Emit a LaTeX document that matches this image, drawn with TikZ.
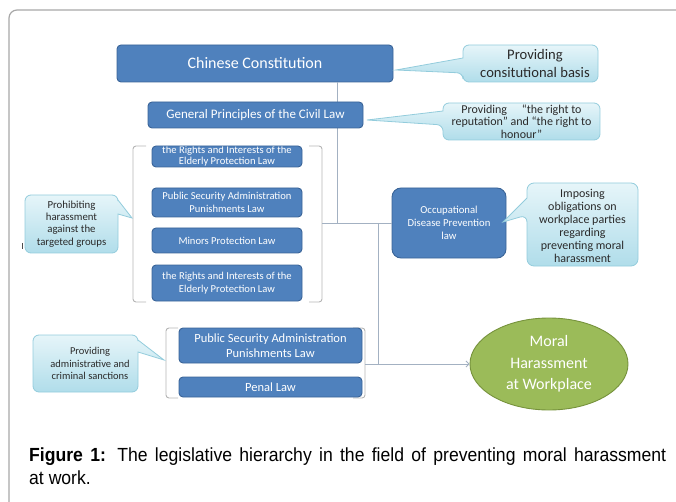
\documentclass[tikz,border=0pt]{standalone}
\usepackage{graphicx}
\usepackage{fontspec}
\setmainfont{Carlito}
\newfontfamily\capfont{Liberation Sans}
\usetikzlibrary{arrows.meta,shapes.geometric}
\definecolor{bluefill}{HTML}{4F81BD}
\definecolor{blueedge}{HTML}{3A6497}
\definecolor{calltop}{HTML}{E6F5F9}
\definecolor{callbot}{HTML}{B0DDEA}
\definecolor{calledge}{HTML}{93CCDC}
\definecolor{greenfill}{HTML}{9BBB59}
\definecolor{greenedge}{HTML}{76923C}
\definecolor{linecol}{HTML}{A3B1C2}
\definecolor{brackcol}{HTML}{B4B4B4}
\definecolor{framecol}{HTML}{A8A8A8}
\definecolor{calltext}{HTML}{2A2A2A}
\newcommand\fsz[2]{\fontsize{#1}{#2}\selectfont}
\begin{document}
\begin{tikzpicture}[x=1pt,y=-1pt,
  lawbox/.style={draw=blueedge, fill=bluefill, line width=0.9pt, rounded corners=4pt,
    text=white, align=center, inner sep=0pt},
  callshape/.style={draw=calledge, line width=0.8pt, top color=calltop, bottom color=callbot},
  calltxt/.style={align=center, text=calltext, inner sep=0pt},
  conn/.style={draw=linecol, line width=0.9pt},
  brack/.style={draw=brackcol, line width=0.9pt, rounded corners=3pt},
  captxt/.style={anchor=base west, inner sep=0pt, font=\capfont\fsz{17.6}{20}}]
\useasboundingbox (0,0) rectangle (676,502);
% frame
\draw[framecol, line width=1.2pt, rounded corners=8pt] (9,502) -- (9,10) -- (676,10);

% junction coordinates
\coordinate (j1) at (337,223);
\coordinate (j2) at (378,223);
\coordinate (j3) at (378,364);
\coordinate (g1r) at (322,223);
\coordinate (g2r) at (365,364);

% connectors (behind boxes)
\node[lawbox, minimum width=276, minimum height=37, font=\fsz{16}{19}] (const) at (255,63.5) {Chinese Constitution};
\draw[conn] (const.south -| j1) -- (j1);
\draw[conn] (g1r) -- (j2);
\draw[conn] (j2) -- (j3);

% brackets
\draw[brack] (146,146) -- (133,146) -- (133,302) -- (146,302);
\draw[brack] (309,146) -- (322,146) -- (322,302) -- (309,302);
\draw[brack] (178,328) -- (166,328) -- (166,398) -- (178,398);
\draw[brack] (353,328) -- (365,328) -- (365,398) -- (353,398);

% law boxes
\node[lawbox, minimum width=215, minimum height=26, font=\fsz{13}{15}] (gpcl) at (255.5,115) {General Principles of the Civil Law};

\node[lawbox, minimum width=150, minimum height=21,
  path picture={\node[text=white, align=center, inner sep=0pt, font=\fsz{10.6}{11.5}]
    at ([yshift=0.3pt]path picture bounding box.center) {the Rights and Interests of the\\Elderly Protection Law};}] (ra) at (227,156.5) {};
\node[lawbox, minimum width=150, minimum height=29, font=\fsz{10.6}{13.3}] (psa) at (227,202.5) {Public Security Administration\\Punishments Law};
\node[lawbox, minimum width=150, minimum height=25, font=\fsz{10.6}{13.3}] (mpl) at (227,240.5) {Minors Protection Law};
\node[lawbox, minimum width=150, minimum height=36, font=\fsz{10.6}{13.3}] (rie) at (227,283) {the Rights and Interests of the\\Elderly Protection Law};

\node[lawbox, minimum width=183, minimum height=35, font=\fsz{12.5}{14.7}] (psa2) at (270.5,345.5) {Public Security Administration\\Punishments Law};
\node[lawbox, minimum width=183, minimum height=20, font=\fsz{12.5}{14.7}] (penal) at (270.5,387) {Penal Law};

\node[lawbox, rounded corners=9pt, minimum width=114, minimum height=70, font=\fsz{10.7}{12.8}] (occ) at (449,223) {Occupational\\Disease Prevention\\law};
\draw[conn] (g1r) -- (occ.west);

\node[ellipse, draw=greenedge, fill=greenfill, line width=0.9pt, minimum width=158, minimum height=92, inner sep=0pt,
  text=white, align=center, font=\fsz{16}{21.7}] (moral) at (549,364) {Moral\\Harassment\\at Workplace};
\draw[conn, -{Straight Barb[length=3pt,width=6pt]}] (g2r) -- (moral.west);

% callouts
\path[callshape] (530,45) [rounded corners=6pt] -- (598,45) -- (598,82) -- (463,82) -- (463,73) [sharp corners] -- (396,70) -- (463,58) [rounded corners=6pt] -- (463,45) -- cycle;
\node[calltxt, font=\fsz{14.6}{18}] (c1) at (535,63.5) {Providing\\consitutional basis};

\path[callshape] (520,103) [rounded corners=6pt] -- (600,103) -- (600,140) -- (443,140) -- (443,125) [sharp corners] -- (367,120) -- (443,111) [rounded corners=6pt] -- (443,103) -- cycle;
\node[calltxt, font=\fsz{12}{12.5}] (c2) at (521.5,121.5) {Providing\quad\ “the right to\\reputation” and “the right to\\honour”};

\path[callshape] (70,195) [rounded corners=6pt] -- (118,195) [sharp corners] -- (118,200) -- (132,218) -- (118,214) [rounded corners=6pt] -- (118,253) -- (25,253) -- (25,195) -- cycle;
\node[calltxt, font=\fsz{10.8}{12.3}] (c3) at (71.5,224) {Prohibiting\\harassment\\against the\\targeted groups};
\draw[black!70, line width=0.8pt] (22,243) -- (22,249);

\path[callshape] (85,335) [rounded corners=6pt] -- (138,335) [sharp corners] -- (138,340) -- (164,360) -- (138,352) [rounded corners=6pt] -- (138,392) -- (33,392) -- (33,335) -- cycle;
\node[calltxt, font=\fsz{10.5}{12.7}] (c4) at (90,363.5) {Providing\\administrative and\\criminal sanctions};

\path[callshape] (582,183) [rounded corners=7pt] -- (638,183) -- (638,266) -- (527,266) -- (527,215) [sharp corners] -- (503,222) -- (527,198) [rounded corners=7pt] -- (527,183) -- cycle;
\node[calltxt, font=\fsz{12}{13.1}] (c5) at (582.5,226) {Imposing\\obligations on\\workplace parties\\regarding\\preventing moral\\harassment};

% caption
\node[captxt] (cap1) at (29,461) {\scalebox{1}[1.08]{\makebox[637pt][s]{\textbf{Figure 1:} The legislative hierarchy in the field of preventing moral harassment}}};
\node[captxt] (cap2) at (29,484) {\scalebox{1}[1.08]{at work.}};
\end{tikzpicture}
\end{document}
